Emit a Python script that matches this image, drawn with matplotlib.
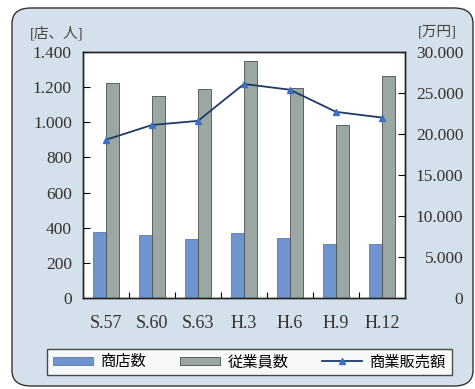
import matplotlib
matplotlib.use("Agg")
import matplotlib.pyplot as plt
import numpy as np
from matplotlib.patches import FancyBboxPatch, Patch
from matplotlib.lines import Line2D
from matplotlib.ticker import FuncFormatter, FixedLocator

plt.rcParams['font.family'] = ['Liberation Serif', 'Noto Sans CJK JP', 'DejaVu Sans']

categories = ["S.57", "S.60", "S.63", "H.3", "H.6", "H.9", "H.12"]
stores = [375, 358, 336, 372, 341, 307, 307]
employees = [1224, 1150, 1190, 1349, 1195, 985, 1264]
sales = [19300, 21100, 21600, 26100, 25400, 22700, 22000]
left_ticks = [0, 200, 400, 600, 800, 1000, 1200, 1400]
right_ticks = [0, 5000, 10000, 15000, 20000, 25000, 30000]
legend_labels = ["商店数", "従業員数", "商業販売額"]

W, H = 475, 389
fig = plt.figure(figsize=(W / 100, H / 100), dpi=100)
fig.patch.set_facecolor('white')

bg = FancyBboxPatch((12 / W, 3 / H), 461 / W, 378 / H,
                    boxstyle="round,pad=0,rounding_size=0.04",
                    transform=fig.transFigure, facecolor='#d4e0eb',
                    edgecolor='#333333', linewidth=1.0, zorder=-5)
fig.patches.append(bg)

ax = fig.add_axes([83 / W, (H - 298) / H, 322 / W, 246 / H])
ax.set_facecolor('white')
x = np.arange(len(categories))
w = 0.28
ax.bar(x - w / 2, stores, width=w, color='#6f94d0', edgecolor='#4d6a9a', linewidth=0.5, zorder=2)
ax.bar(x + w / 2, employees, width=w, color='#9ba7a3', edgecolor='#4a4f4d', linewidth=0.6, zorder=2)
ax.set_xlim(-0.5, len(categories) - 0.5)
ax.set_ylim(0, 1400)
ax.set_yticks(left_ticks)
fmt = FuncFormatter(lambda v, p: f"{v:,.0f}".replace(',', '.'))
ax.yaxis.set_major_formatter(fmt)
ax.set_xticks(x)
ax.set_xticklabels(categories)
ax.xaxis.set_minor_locator(FixedLocator(np.arange(0.5, len(categories) - 1, 1.0)))
ax.tick_params(axis='x', which='major', length=0, pad=12, labelsize=13, labelcolor='#333333')
ax.tick_params(axis='x', which='minor', direction='in', length=4, width=0.8)
ax.tick_params(axis='y', direction='in', length=5, width=0.8, pad=8, labelsize=12.5, labelcolor='#333333')
for s in ax.spines.values():
    s.set_linewidth(1.0)
    s.set_color('#222222')

ax2 = ax.twinx()
ax2.plot(x, sales, color='#1f3a66', linewidth=1.3, marker='^', markersize=5,
         markerfacecolor='#3b6fc4', markeredgecolor='#3b6fc4', zorder=3)
ax2.set_ylim(0, 30000)
ax2.set_yticks(right_ticks)
ax2.yaxis.set_major_formatter(fmt)
ax2.tick_params(axis='y', direction='in', length=5, width=0.8, pad=42, labelsize=12.5, labelcolor='#333333')
for lab in ax2.get_yticklabels():
    lab.set_horizontalalignment('right')
for s in ax2.spines.values():
    s.set_linewidth(1.0)
    s.set_color('#222222')

fig.text(30 / W, 1 - 33 / H, "[店、人]", fontsize=10.5, color='#444444', va='center', ha='left')
fig.text(418 / W, 1 - 32 / H, "[万円]", fontsize=10.5, color='#444444', va='center', ha='left')

handles = [Patch(facecolor='#6f94d0', edgecolor='#4d6a9a', linewidth=0.5),
           Patch(facecolor='#9ba7a3', edgecolor='#4a4f4d', linewidth=0.6),
           Line2D([], [], color='#1f3a66', linewidth=1.3, marker='^', markersize=4,
                  markerfacecolor='#3b6fc4', markeredgecolor='#3b6fc4')]
leg = fig.legend(handles, legend_labels, ncol=3, mode='expand',
                 bbox_to_anchor=(47 / W, 1 - 380 / H, 405 / W, 36 / H), loc='center',
                 frameon=True, fancybox=False, handlelength=2.6, handleheight=0.45,
                 handletextpad=0.5, fontsize=11, borderaxespad=0)
leg.get_frame().set_edgecolor('#222222')
leg.get_frame().set_linewidth(1.0)
leg.get_frame().set_facecolor('white')

fig.savefig("out.png", dpi=100, facecolor=fig.get_facecolor())
